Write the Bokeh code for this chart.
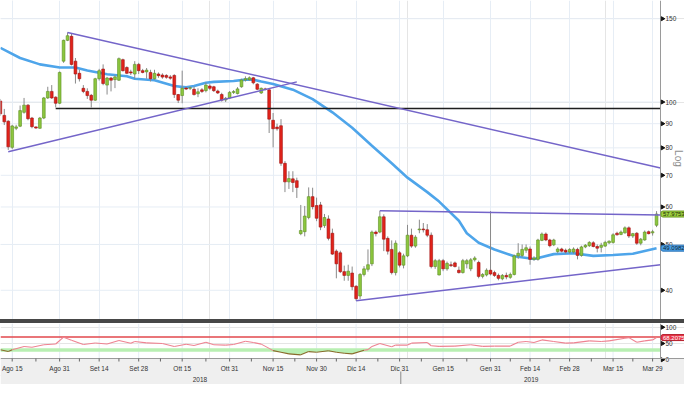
import numpy as np
from bokeh.plotting import figure
from bokeh.models import (Range1d, FixedTicker, Label, ColumnDataSource, Div, Grid,
                          BoxAnnotation)
from bokeh.layouts import column
from bokeh.embed import file_html
from bokeh.resources import INLINE
from bokeh.core.properties import value

# ---------------- data (trading-day index, 0 = Ago 15 2018) ----------------
days = list(range(-3, 164))

opens = [100.5, 93.7, 91.1, 80.2, 88.0, 88.9, 95.1, 98.5, 92.5, 88.6,
         88.0, 92.5, 102.0, 105.3, 102.4, 99.4, 122.0, 135.0, 137.7, 122.0,
         115.0, 106.9, 105.3, 103.3, 100.9, 112.0, 117.4, 108.6, 112.4, 111.5,
         111.2, 122.9, 118.3, 115.8, 114.6, 120.1, 116.5, 115.8, 115.5, 112.0,
         114.6, 114.0, 113.8, 113.0, 113.8, 103.7, 103.2, 107.0, 106.9, 106.4,
         104.1, 106.1, 105.7, 108.1, 107.7, 105.5, 103.7, 101.0, 102.0, 104.8,
         104.2, 107.7, 111.3, 111.5, 112.5, 109.1, 104.5, 106.6, 106.1, 91.5,
         88.5, 89.1, 74.2, 67.8, 68.8, 68.2, 52.7, 53.2, 57.0, 63.1,
         60.4, 60.6, 54.8, 56.6, 52.8, 48.4, 48.0, 43.8, 43.0, 43.5,
         40.8, 38.9, 43.2, 44.3, 45.5, 53.1, 53.1, 57.2, 51.5, 48.8,
         43.6, 48.0, 45.2, 47.3, 52.3, 49.6, 53.7, 53.9, 53.7, 52.3,
         44.9, 43.1, 46.2, 44.4, 45.3, 45.7, 44.1, 43.6, 45.5, 44.4,
         46.4, 45.8, 42.8, 43.1, 44.1, 43.6, 43.0, 42.3, 43.0, 42.6,
         43.2, 47.3, 47.4, 48.6, 48.9, 46.5, 46.5, 51.0, 52.6, 51.1,
         49.9, 48.3, 48.9, 48.6, 48.2, 48.2, 48.8, 47.4, 49.4, 49.7,
         50.4, 49.5, 49.3, 49.6, 50.4, 50.5, 52.8, 52.5, 52.9, 54.2,
         52.1, 52.8, 50.3, 51.1, 53.2, 52.9, 54.9]

highs = [101.5, 96.7, 91.5, 89.5, 89.5, 98.3, 102.0, 99.0, 93.0, 88.8,
         93.0, 102.5, 107.7, 108.6, 102.8, 116.0, 135.5, 140.3, 139.5, 123.9,
         117.0, 108.6, 106.9, 104.0, 112.5, 117.5, 120.1, 113.0, 113.0, 114.0,
         124.2, 123.5, 119.0, 117.0, 122.0, 121.0, 117.5, 118.0, 117.0, 117.0,
         115.5, 115.0, 114.5, 114.0, 114.5, 104.0, 116.5, 107.7, 107.8, 107.8,
         106.9, 107.0, 110.0, 109.0, 108.2, 106.2, 104.6, 102.5, 105.5, 106.0,
         107.5, 112.0, 113.3, 113.3, 113.0, 109.6, 107.3, 107.2, 106.5, 94.8,
         90.0, 92.0, 75.0, 71.4, 71.4, 69.2, 60.6, 60.3, 66.0, 65.9,
         62.8, 61.5, 58.0, 57.6, 54.0, 48.8, 48.5, 45.1, 45.3, 44.9,
         41.0, 43.5, 45.0, 48.8, 53.5, 53.5, 58.9, 57.9, 52.0, 51.0,
         51.0, 48.4, 47.8, 55.0, 54.0, 52.3, 56.4, 55.5, 55.2, 53.0,
         46.6, 46.6, 46.6, 46.0, 46.0, 46.0, 44.9, 46.6, 46.6, 46.8,
         47.2, 46.2, 43.5, 44.5, 58.8, 44.0, 43.4, 43.3, 43.6, 43.6,
         47.6, 50.3, 50.0, 50.0, 49.5, 47.2, 51.4, 53.0, 53.0, 51.4,
         51.4, 49.3, 49.2, 49.0, 49.1, 49.3, 49.2, 49.7, 50.1, 50.8,
         50.8, 50.0, 50.4, 50.9, 51.0, 52.8, 53.2, 53.5, 54.6, 54.6,
         52.9, 53.1, 51.6, 53.5, 53.5, 53.7, 58.8]

lows = [93.5, 89.4, 79.2, 79.5, 87.2, 88.5, 94.5, 91.5, 88.0, 87.8,
        87.8, 92.0, 101.5, 101.5, 97.4, 99.0, 121.0, 134.5, 119.5, 109.4,
        110.5, 104.4, 101.5, 97.4, 100.5, 111.0, 108.5, 103.7, 105.3, 107.0,
        110.8, 116.0, 114.5, 114.0, 112.0, 114.6, 115.0, 112.0, 110.5, 111.5,
        112.5, 112.0, 112.0, 111.5, 102.0, 99.5, 99.4, 106.0, 106.0, 103.2,
        102.4, 104.5, 104.8, 106.0, 105.0, 104.0, 100.2, 100.0, 101.5, 104.0,
        103.8, 107.2, 110.5, 110.8, 109.0, 106.0, 104.0, 105.8, 86.0, 80.2,
        87.0, 73.3, 64.5, 65.5, 64.5, 62.7, 52.3, 52.0, 56.5, 59.3,
        56.0, 53.6, 54.2, 51.0, 47.5, 42.4, 43.5, 41.9, 41.9, 40.0,
        38.0, 38.3, 42.8, 43.8, 45.0, 52.0, 52.8, 48.4, 47.6, 43.2,
        43.0, 44.7, 44.5, 47.0, 49.2, 49.2, 52.8, 53.0, 51.8, 44.5,
        44.4, 43.0, 43.9, 44.0, 44.8, 44.7, 43.4, 43.4, 44.5, 43.9,
        46.0, 42.4, 42.4, 42.8, 43.0, 42.7, 42.0, 42.0, 42.2, 42.3,
        43.0, 46.6, 47.0, 48.0, 45.3, 46.2, 46.2, 50.8, 50.8, 49.3,
        49.6, 47.9, 48.1, 47.8, 47.8, 47.8, 46.5, 47.1, 49.1, 49.4,
        49.3, 48.1, 48.1, 49.4, 50.1, 50.2, 52.2, 52.3, 52.7, 51.6,
        51.6, 49.9, 49.8, 50.9, 52.5, 52.2, 54.4]

closes = [94.4, 90.8, 80.4, 89.0, 88.6, 95.9, 98.5, 92.2, 88.7, 88.1,
          92.5, 102.0, 105.3, 102.0, 99.4, 115.5, 135.0, 138.1, 120.1, 114.6,
          112.0, 105.3, 103.2, 100.9, 112.0, 116.5, 109.4, 112.4, 111.2, 113.0,
          123.5, 116.5, 115.0, 115.2, 120.1, 116.5, 115.5, 116.8, 112.0, 115.0,
          113.7, 112.9, 112.8, 112.3, 103.7, 100.9, 106.9, 106.5, 107.2, 103.7,
          105.1, 105.3, 108.6, 106.9, 105.7, 104.5, 100.9, 101.8, 104.8, 105.2,
          106.6, 111.3, 112.0, 112.5, 109.8, 106.4, 106.9, 106.3, 92.0, 87.8,
          87.8, 74.2, 67.8, 68.9, 67.6, 66.0, 53.5, 57.4, 63.1, 60.1,
          56.8, 54.4, 57.0, 51.5, 47.7, 45.5, 43.8, 43.0, 43.9, 40.7,
          38.4, 43.2, 44.4, 45.3, 53.1, 52.7, 57.2, 51.3, 48.4, 43.6,
          50.3, 45.2, 47.3, 52.3, 49.6, 51.8, 53.9, 53.7, 52.3, 44.9,
          46.2, 46.2, 44.4, 45.6, 45.1, 44.9, 43.6, 46.2, 46.2, 46.4,
          46.8, 42.8, 43.2, 44.1, 43.3, 43.0, 42.4, 43.0, 42.7, 43.2,
          47.3, 47.9, 48.8, 49.2, 46.5, 46.8, 51.1, 52.6, 51.1, 49.7,
          51.1, 48.9, 48.4, 48.2, 48.8, 48.9, 47.4, 49.4, 49.8, 50.5,
          49.5, 49.1, 49.8, 50.5, 50.8, 52.4, 52.4, 53.1, 54.2, 52.1,
          52.7, 50.3, 51.3, 53.1, 52.7, 53.2, 57.9753]

# moving average (at these days)
ma_days = [-3, 2, 7, 12, 16, 19, 24, 29, 31, 36, 41, 44, 46, 49, 51, 56, 59, 61, 63, 66,
           71, 76, 81, 86, 91, 96, 100, 105, 108, 113, 115, 118, 122, 127, 132, 137, 142,
           147, 152, 157, 163]
ma_vals = [130.2, 123.9, 120.1, 118.3, 118.3, 116.6, 114.5, 113.4, 112.0, 111.2, 108.1,
           107.4, 108.1, 109.8, 110.3, 110.8, 111.5, 111.5, 110.5, 109.2, 106.2, 101.4,
           95.1, 88.2, 80.8, 74.2, 69.2, 64.5, 61.6, 56.1, 52.8, 50.4, 48.8, 47.2, 46.6,
           47.7, 47.9, 47.3, 47.5, 47.8, 49.0982]

# RSI
rsi_days = [-3, -1, 0, 3, 5, 8, 11, 13, 15, 18, 21, 24, 27, 30, 31, 34, 38, 41, 44, 46,
            49, 51, 54, 56, 59, 61, 63, 65, 66, 68, 70, 73, 75, 77, 80, 82, 84, 86, 89, 90,
            91, 93, 96, 97, 100, 101, 105, 106, 108, 112, 116, 119, 122, 126, 128, 130, 132,
            134, 137, 140, 142, 146, 149, 151, 155, 156, 158, 160, 162, 163]
rsi_vals = [30.6, 25.4, 30.6, 40.8, 38.5, 45.9, 48.5, 69.4, 60.0, 47.0, 51.3, 48.5, 59.2,
            51.0, 56.0, 52.0, 50.0, 40.8, 47.9, 44.0, 53.6, 46.0, 45.0, 47.0, 57.0, 53.0,
            48.0, 35.0, 28.0, 23.0, 18.0, 15.0, 25.0, 23.0, 27.5, 23.0, 20.0, 18.0, 29.0,
            31.0, 41.0, 50.0, 40.0, 45.0, 45.0, 51.0, 53.0, 43.0, 41.0, 42.0, 46.0, 41.0,
            42.0, 42.0, 54.0, 56.0, 53.0, 61.0, 56.0, 51.0, 52.0, 58.0, 56.0, 58.0, 66.0,
            68.0, 54.0, 58.0, 61.0, 68.2075]
rsi_upper = 70
rsi_lower = 30

# trend lines (day, price)
down_days, down_prices = [14, 164], [140.3, 72.5]
rise_days, rise_prices = [-1, 72], [78.5, 110.3]
top_days, top_prices = [93, 164], [58.9, 57.7]
sup_days, sup_prices = [87, 164], [38.0, 45.3]
level_days, level_prices = [11, 164], [96.9, 96.9]

# axes
tick_days = [0, 12, 22, 32, 43, 55, 66, 77, 87, 98, 109, 121, 131, 141, 152, 162]
tick_labels = ["Ago 15", "Ago 31", "Set 14", "Set 28", "Ott 15", "Ott 31", "Nov 15",
               "Nov 30", "Dic 14", "Dic 31", "Gen 15", "Gen 31", "Feb 14", "Feb 28",
               "Mar 15", "Mar 29"]
minor_days = [6, 17, 27, 37.5, 49, 60.5, 71.5, 82, 92.5, 103.5, 115, 126, 136, 146.5, 157]
year_days = [47.5, 131.3]
year_labels = ["2018", "2019"]
year_break = [98.3]
price_ticks = [40, 50, 60, 70, 80, 90, 100, 150]
price_tick_labels = ["40", "50", "60", "70", "80", "90", "100", "150"]
rsi_ticks = [0, 50, 100]
rsi_tick_labels = ["0", "50", "100"]

# ---------------- layout constants ----------------
FONT = "Liberation Sans"
W = 684
H_MAIN = 319
H_RSI = 61
AXIS_PX = 660                                       # pixel column of the right axis
X_START, AXIS_X = -2.96, 164.0
X_END = X_START + (AXIS_X - X_START) * W / AXIS_PX  # right axis sits inside the frame
PX = (X_END - X_START) / W                          # data units per pixel (x)
R_TOP, R_AXIS, R_BOTTOM = 111.5, 3.8, -76.2         # RSI frame incl. bottom strip
PY = (R_TOP - R_BOTTOM) / H_RSI                     # RSI units per pixel
GRID = "#e6edf5"
AXIS_C = "#9a9a9a"
LBL_C = "#333333"
GREEN, GREEN_L = "#8cc63e", "#5d8f22"
RED, RED_L = "#e2231a", "#9e1010"

x_rng = Range1d(X_START, X_END)

# ---------------- main panel ----------------
p = figure(width=W, height=H_MAIN, x_range=x_rng, y_range=Range1d(34.7, 163.9),
           y_axis_type="log", y_axis_location=None, x_axis_location=None,
           output_backend="svg", toolbar_location=None,
           min_border_left=0, min_border_top=0, min_border_bottom=0, min_border_right=0)
p.outline_line_color = None
p.background_fill_color = "white"
p.border_fill_color = "white"
p.add_layout(Grid(dimension=0, ticker=FixedTicker(ticks=tick_days), grid_line_color=GRID))
p.segment(x0=X_START, x1=AXIS_X, y0=price_ticks, y1=price_ticks, line_color=GRID,
          line_width=1)

# moving average
p.line(ma_days, ma_vals, line_color="#4ea5ea", line_width=2.6)

# candles
tops = [max(o, c) for o, c in zip(opens, closes)]
bots = [min(o, c) for o, c in zip(opens, closes)]
fills = [GREEN if c >= o else RED for o, c in zip(opens, closes)]
lines = [GREEN_L if c >= o else RED_L for o, c in zip(opens, closes)]
src = ColumnDataSource(dict(day=days, high=highs, low=lows, top=tops, bot=bots,
                            fill=fills, line=lines))
p.segment(x0="day", y0="low", x1="day", y1="high", source=src, line_color="#8a8a8a",
          line_width=1)
p.vbar(x="day", width=0.7, top="top", bottom="bot", source=src, fill_color="fill",
       line_color="line", line_width=0.6)

# trend lines
TL = "#7465c9"
p.line(level_days, level_prices, line_color="#1e1e1e", line_width=1.6)
for xs, ys in [(down_days, down_prices), (rise_days, rise_prices),
               (top_days, top_prices), (sup_days, sup_prices)]:
    p.line(xs, ys, line_color=TL, line_width=1.5)

# right price axis (drawn inside the extended frame)
p.segment(x0=AXIS_X, x1=AXIS_X, y0=34.7, y1=163.9, line_color=AXIS_C, line_width=1)
p.scatter(x=[AXIS_X + 2 * PX] * len(price_ticks), y=price_ticks, marker="triangle",
          angle=-np.pi / 2, size=4, fill_color="#111111", line_color="#111111")
p.text(x=[AXIS_X] * len(price_ticks), y=price_ticks, text=price_tick_labels,
       x_offset=5, text_align="left", text_baseline="middle", text_font=value(FONT),
       text_font_size="6.5px", text_color=LBL_C)


def tag(fig, yv, text, bg, border, fg):
    lab = Label(x=AXIS_X, y=yv, x_offset=0.5, text=text, text_font=FONT,
                text_font_size="6px", text_baseline="middle", text_align="left",
                text_color=fg, background_fill_color=bg, border_line_color=border)
    for k, v in (("padding", (2, 1)), ("border_radius", 2)):
        try:
            setattr(lab, k, v)
        except Exception:
            try:
                setattr(lab, k, 1)
            except Exception:
                pass
    fig.add_layout(lab)


tag(p, closes[-1], "57.9753", "#9dd040", "#6c9b22", "#1b2a05")
tag(p, ma_vals[-1], "49.0982", "#4a9fe6", "#2d75b8", "#0d1f33")
p.add_layout(Label(x=AXIS_X, y=76, x_offset=18, text="Log", angle=-np.pi / 2,
                   text_font=FONT, text_font_size="10px", text_color="#8e8e8e",
                   text_align="center", text_baseline="middle"))

sep = Div(text="", width=W, height=4, margin=(0, 0, 0, 0),
          styles={"background-color": "#474747"})

# ---------------- RSI panel + date axis strip ----------------
r = figure(width=W, height=H_RSI, x_range=x_rng, y_range=Range1d(R_BOTTOM, R_TOP),
           x_axis_location=None, y_axis_location=None, output_backend="svg",
           toolbar_location=None, min_border_left=0, min_border_top=0,
           min_border_bottom=0, min_border_right=0)
r.outline_line_color = None
r.background_fill_color = "white"
r.border_fill_color = "white"
r.add_layout(BoxAnnotation(top=R_AXIS, fill_color="#efefef", fill_alpha=1,
                           line_color=None, level="underlay"))
r.segment(x0=tick_days, x1=tick_days, y0=R_AXIS, y1=R_TOP, line_color=GRID)

r.segment(x0=X_START, x1=AXIS_X, y0=rsi_lower, y1=rsi_lower, line_color="#b8efb2",
          line_width=3.5)
r.segment(x0=X_START, x1=AXIS_X, y0=rsi_upper, y1=rsi_upper, line_color="#e2474d",
          line_width=1.3)
r.varea(x=rsi_days, y1=[min(v, rsi_lower) for v in rsi_vals], y2=rsi_lower,
        fill_color="#b8efb2")
seg_col = ["#8a6a2c" if (a + b) / 2 < rsi_lower else "#ee8391"
           for a, b in zip(rsi_vals[:-1], rsi_vals[1:])]
r.segment(x0=rsi_days[:-1], y0=rsi_vals[:-1], x1=rsi_days[1:], y1=rsi_vals[1:],
          line_color=seg_col, line_width=1.1)

# RSI right axis
r.segment(x0=AXIS_X, x1=AXIS_X, y0=R_AXIS, y1=R_TOP, line_color=AXIS_C)
r.scatter(x=[AXIS_X + 2 * PX] * len(rsi_ticks), y=rsi_ticks, marker="triangle",
          angle=-np.pi / 2, size=4, fill_color="#111111", line_color="#111111")
r.text(x=[AXIS_X] * len(rsi_ticks), y=rsi_ticks, text=rsi_tick_labels, x_offset=5,
       text_align="left", text_baseline="middle", text_font=value(FONT),
       text_font_size="6.5px", text_color=LBL_C)
tag(r, rsi_vals[-1], "68.2075", "#e8384a", "#b51d2c", "white")

# date axis
r.segment(x0=X_START, x1=X_END, y0=R_AXIS, y1=R_AXIS, line_color=AXIS_C)
all_ticks = tick_days + minor_days
r.segment(x0=all_ticks, x1=all_ticks, y0=R_AXIS, y1=R_AXIS - 3 * PY, line_color="#666666")
r.text(x=tick_days, y=R_AXIS - 10 * PY, text=tick_labels, text_align="center",
       text_baseline="middle", text_font=value(FONT), text_font_size="6.5px",
       text_color=LBL_C)
r.segment(x0=year_break, x1=year_break, y0=R_AXIS - 13 * PY, y1=R_BOTTOM,
          line_color="#8a8a8a")
r.text(x=year_days, y=R_AXIS - 20.5 * PY, text=year_labels, text_align="center",
       text_baseline="middle", text_font=value(FONT), text_font_size="6.5px",
       text_color=LBL_C)

layout = column(p, sep, r, spacing=0)
open("out.html", "w").write(file_html(layout, INLINE))
